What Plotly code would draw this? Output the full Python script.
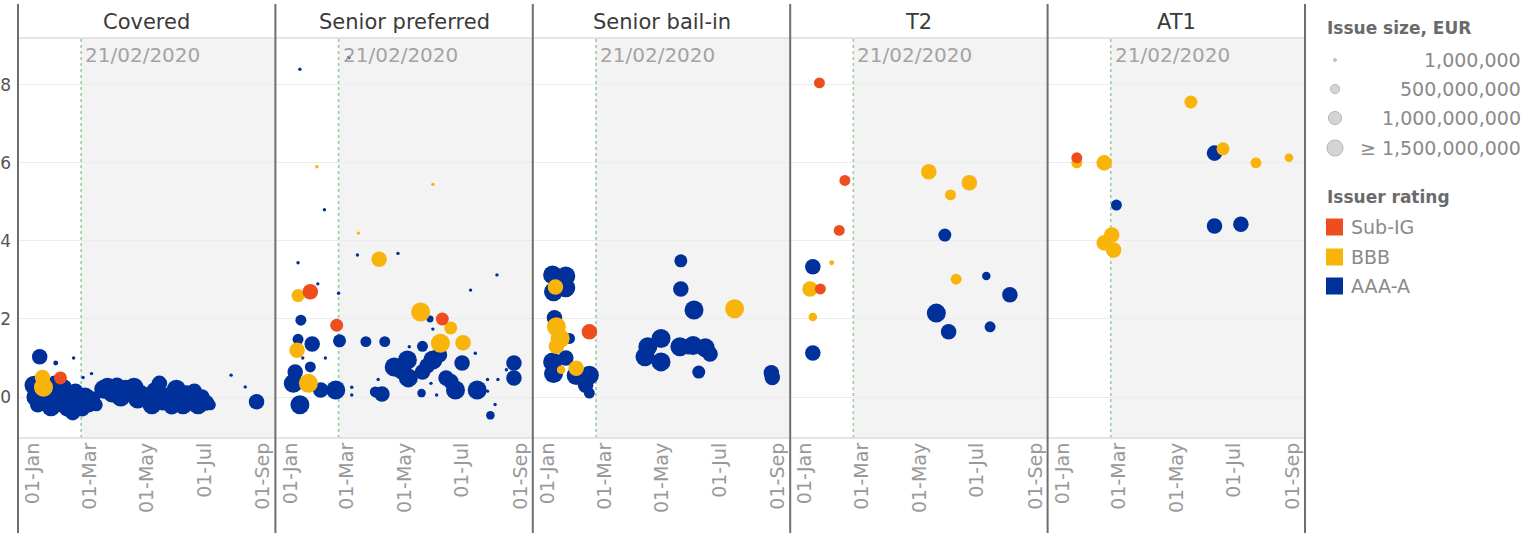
import math
import plotly.graph_objects as go
from plotly.subplots import make_subplots

# ---------------- data ----------------
panels = ["Covered", "Senior preferred", "Senior bail-in", "T2", "AT1"]
rating_order = ["A", "B", "S"]
rating_names = {"S": "Sub-IG", "B": "BBB", "A": "AAA-A"}
rating_colors = {"S": "#EE4D1E", "B": "#F8B40A", "A": "#00309A"}
event_date = "2020-02-21"
event_label = "21/02/2020"
x_range = ["2019-12-16", "2020-09-14"]
tick_dates = ["2020-01-01", "2020-03-01", "2020-05-01", "2020-07-01", "2020-09-01"]
tick_labels = ["01-Jan", "01-Mar", "01-May", "01-Jul", "01-Sep"]
y_ticks = [0, 2, 4, 6, 8]
size_legend_values = [1, 500, 1000, 1500]          # EUR millions
size_legend_labels = ["1,000,000", "500,000,000", "1,000,000,000", "\u2265 1,500,000,000"]

# Covered
covered_dates = ["2020-01-02", "2020-01-04", "2020-01-06", "2020-01-08", "2020-01-10", "2020-01-14",
                 "2020-01-18", "2020-01-20", "2020-01-24", "2020-01-27", "2020-01-31", "2020-02-03",
                 "2020-02-06", "2020-02-09", "2020-02-12", "2020-02-15", "2020-02-18", "2020-02-22",
                 "2020-02-25", "2020-02-29", "2020-03-04", "2020-03-08", "2020-01-25", "2020-02-13",
                 "2020-02-23", "2020-03-03",
                 "2020-03-16", "2020-03-20", "2020-03-25", "2020-03-30", "2020-04-03", "2020-04-08",
                 "2020-04-12", "2020-04-17", "2020-04-21", "2020-04-25", "2020-05-02", "2020-05-06",
                 "2020-05-10", "2020-05-14", "2020-05-18", "2020-05-22", "2020-05-27", "2020-06-01",
                 "2020-06-04", "2020-06-08", "2020-06-12", "2020-06-16", "2020-06-20", "2020-06-24",
                 "2020-06-28", "2020-07-03", "2020-07-07", "2020-07-29", "2020-08-13", "2020-08-25",
                 "2020-01-11", "2020-01-12", "2020-01-30"]
covered_yield = [0.30, 0.00, -0.20, 1.03, 0.10, -0.10,
                 0.20, -0.25, 0.35, 0.05, -0.15, 0.25,
                 -0.30, 0.00, -0.40, 0.15, -0.20, -0.30,
                 0.00, -0.20, -0.05, -0.20, 0.87, 1.00,
                 0.50, 0.60,
                 0.20, 0.25, 0.10, 0.30, 0.00, 0.20,
                 0.10, 0.25, -0.05, 0.10, 0.00, -0.20,
                 0.15, 0.35, -0.10, 0.00, -0.25, 0.20,
                 0.00, -0.20, 0.10, -0.10, 0.15, -0.20,
                 0.00, -0.15, -0.20, 0.56, 0.26, -0.12,
                 0.50, 0.25, 0.49]
covered_size = [1500, 1500, 1000, 1000, 1500, 1500,
                1000, 1500, 1000, 1500, 1500, 1000,
                1000, 1500, 1000, 1000, 1500, 1000,
                1500, 1000, 1000, 700, 100, 50,
                1, 1,
                1500, 1500, 1500, 1000, 1500, 1500,
                1000, 1500, 1500, 1000, 1500, 1500,
                1500, 1000, 1500, 1500, 1000, 1500,
                1500, 1500, 1000, 1500, 1000, 1500,
                1000, 1000, 500, 20, 20, 1000,
                1000, 1500, 700]
covered_rating = ["A"] * 56 + ["B", "B", "S"]

# Senior preferred
sp_dates = ["2020-01-11", "2020-01-29", "2020-02-06", "2020-03-13", "2020-05-31", "2020-03-03",
            "2020-01-09", "2020-04-04", "2020-03-12", "2020-04-24", "2020-08-07", "2020-07-10",
            "2020-01-22", "2020-01-09", "2020-01-30", "2020-02-21", "2020-01-12", "2020-02-19",
            "2020-05-18", "2020-05-28", "2020-06-10", "2020-06-19", "2020-05-31", "2020-06-08",
            "2020-07-02", "2020-01-09", "2020-01-24", "2020-01-08", "2020-02-22", "2020-03-21",
            "2020-04-10", "2020-02-07", "2020-01-14", "2020-05-06", "2020-05-20", "2020-07-15",
            "2020-01-22", "2020-01-06", "2020-01-04", "2020-01-20", "2020-02-02", "2020-02-18",
            "2020-03-06", "2020-03-06", "2020-01-11", "2020-03-31", "2020-04-07", "2020-04-03",
            "2020-04-20", "2020-04-28", "2020-05-04", "2020-05-05", "2020-05-20", "2020-05-25",
            "2020-05-31", "2020-06-07", "2020-07-01", "2020-06-14", "2020-06-19", "2020-06-24",
            "2020-07-17", "2020-05-19", "2020-05-29", "2020-06-04", "2020-07-28", "2020-07-28",
            "2020-08-05", "2020-07-31", "2020-08-08", "2020-08-25", "2020-08-25", "2020-08-17"]
sp_yield = [8.40, 5.90, 4.80, 4.20, 5.45, 8.70,
            3.44, 3.53, 3.64, 3.68, 3.13, 2.74,
            2.70, 2.60, 2.90, 2.66, 1.97, 1.84,
            2.18, 2.00, 2.00, 1.77, 1.74, 1.38,
            1.39, 1.48, 1.36, 1.20, 1.44, 1.42,
            1.42, 1.00, 1.00, 1.29, 1.30, 1.12,
            0.77, 0.64, 0.35, 0.35, 0.18, 0.18,
            0.25, 0.05, -0.20, 0.13, 0.08, 0.45,
            0.77, 0.70, 0.95, 0.49, 0.64, 0.80,
            0.95, 1.08, 0.87, 0.49, 0.40, 0.18,
            0.18, 0.10, 0.35, 0.05, 0.45, 0.15,
            -0.19, -0.47, 0.45, 0.87, 0.49, 0.70]
sp_size = [1, 1, 1, 1, 1, 1,
           1, 1000, 1, 1, 1, 1,
           1000, 700, 1, 1, 500, 700,
           1500, 200, 700, 700, 1, 1500,
           1000, 500, 1000, 1000, 700, 500,
           500, 1, 1, 1, 500, 1,
           500, 1000, 1500, 1500, 1000, 1500,
           1, 1, 1500, 500, 1000, 1,
           1500, 1500, 1500, 1500, 1000, 1000,
           1500, 1000, 1000, 1000, 1000, 1500,
           1500, 300, 1, 1, 1, 1,
           1, 300, 1, 1000, 1000, 1]
sp_rating = ["A", "B", "A", "B", "B", "A",
             "A", "B", "A", "A", "A", "A",
             "S", "B", "A", "A", "A", "S",
             "B", "A", "S", "B", "A", "B",
             "B", "A", "A", "B", "A", "A",
             "A", "A", "A", "A", "A", "A",
             "A", "A", "A", "B", "A", "A",
             "A", "A", "A", "A", "A", "A",
             "A", "A", "A", "A", "A", "A",
             "A", "A", "A", "A", "A", "A",
             "A", "A", "A", "A", "A", "A",
             "A", "A", "A", "A", "A", "A"]

# Senior bail-in
sb_dates = ["2020-05-21", "2020-05-21", "2020-06-04", "2020-07-17", "2020-08-25", "2020-08-26",
            "2020-06-09", "2020-04-30", "2020-04-16", "2020-04-13", "2020-04-30", "2020-05-20",
            "2020-05-29", "2020-06-03", "2020-06-16", "2020-06-21", "2020-01-06", "2020-01-20",
            "2020-01-07", "2020-01-20", "2020-01-09", "2020-01-08", "2020-01-10", "2020-01-14",
            "2020-01-10", "2020-01-24", "2020-02-14", "2020-01-06", "2020-01-20", "2020-01-07",
            "2020-01-15", "2020-01-31", "2020-01-31", "2020-02-14", "2020-02-10", "2020-02-14"]
sb_yield = [3.49, 2.77, 2.23, 2.26, 0.62, 0.50,
            0.64, 1.50, 1.29, 1.03, 0.90, 1.29,
            1.29, 1.32, 1.26, 1.10, 3.13, 3.10,
            2.70, 2.80, 2.82, 2.03, 1.80, 1.50,
            1.30, 1.50, 1.67, 0.90, 1.00, 0.60,
            0.70, 0.74, 0.55, 0.56, 0.30, 0.10]
sb_size = [700, 1000, 1500, 1500, 1000, 1000,
           700, 1500, 1500, 1500, 1500, 1500,
           1000, 1500, 1500, 1000, 1500, 1500,
           1500, 1500, 1000, 1000, 1500, 1500,
           1000, 500, 1000, 1500, 1000, 1500,
           300, 1000, 1500, 1500, 1000, 500]
sb_rating = ["A", "A", "A", "B", "A", "A",
             "A", "A", "A", "A", "A", "A",
             "A", "A", "A", "A", "A", "A",
             "A", "A", "B", "A", "B", "B",
             "B", "A", "S", "A", "A", "A",
             "B", "B", "A", "A", "A", "A"]

# T2
t2_dates = ["2020-01-16", "2020-02-12", "2020-02-06", "2020-01-09", "2020-01-29", "2020-01-06",
            "2020-01-17", "2020-01-09", "2020-01-09", "2020-05-11", "2020-06-23", "2020-06-03",
            "2020-05-28", "2020-06-09", "2020-07-11", "2020-08-05", "2020-05-19", "2020-06-01",
            "2020-07-15"]
t2_yield = [8.05, 5.55, 4.27, 3.34, 3.44, 2.77,
            2.77, 2.05, 1.13, 5.77, 5.49, 5.18,
            4.15, 3.02, 3.10, 2.62, 2.15, 1.67,
            1.80]
t2_size = [500, 500, 500, 1000, 100, 1000,
           500, 300, 1000, 1000, 1000, 500,
           700, 500, 300, 1000, 1500, 1000,
           500]
t2_rating = ["S", "S", "S", "A", "B", "B",
             "S", "B", "A", "B", "B", "B",
             "A", "B", "A", "A", "A", "A",
             "A"]

# AT1
at1_dates = ["2020-05-16", "2020-01-16", "2020-01-16", "2020-02-14", "2020-06-10", "2020-06-19",
             "2020-07-24", "2020-08-28", "2020-02-27", "2020-06-10", "2020-07-08", "2020-02-14",
             "2020-02-22", "2020-02-24"]
at1_yield = [7.56, 6.13, 6.00, 6.00, 6.25, 6.36,
             6.00, 6.13, 4.92, 4.38, 4.43, 3.95,
             4.15, 3.77]
at1_size = [700, 500, 500, 1000, 1000, 700,
            500, 300, 500, 1000, 1000, 1000,
            1000, 1000]
at1_rating = ["B", "S", "B", "B", "A", "B",
              "B", "B", "A", "A", "A", "B",
              "B", "B"]

panel_data = [
    (covered_dates, covered_yield, covered_size, covered_rating),
    (sp_dates, sp_yield, sp_size, sp_rating),
    (sb_dates, sb_yield, sb_size, sb_rating),
    (t2_dates, t2_yield, t2_size, t2_rating),
    (at1_dates, at1_yield, at1_size, at1_rating),
]

# ---------------- figure ----------------
W, H = 1534, 533
ML, MR, MT, MB = 18, 229, 38, 95
PW, PH = W - ML - MR, H - MT - MB
MAX_D = 19
SIZEREF = 2.0 * 1500 / MAX_D ** 2
SIZEMIN = 1.7

FONT = "DejaVu Sans"


def px_x(x):
    return (x - ML) / PW


def px_y(y):
    return (MT + PH - y) / PH


fig = make_subplots(rows=1, cols=5, shared_yaxes=True, horizontal_spacing=0)

for i, (dates, vals, sizes, ratings) in enumerate(panel_data):
    for r in rating_order:
        idx = [k for k, rr in enumerate(ratings) if rr == r]
        if not idx:
            continue
        fig.add_trace(go.Scatter(
            x=[dates[k] for k in idx],
            y=[vals[k] for k in idx],
            mode="markers",
            marker=dict(size=[sizes[k] for k in idx], sizemode="area", sizeref=SIZEREF,
                        sizemin=SIZEMIN, color=rating_colors[r], opacity=1,
                        line=dict(width=0)),
            name=rating_names[r], showlegend=False,
            hoverinfo="x+y",
        ), row=1, col=i + 1)

fig.update_xaxes(range=x_range, tickvals=tick_dates, ticktext=tick_labels, tickangle=-90,
                 tickfont=dict(family=FONT, size=19, color="#999999"),
                 showgrid=False, zeroline=False, showline=False, ticks="")
fig.update_yaxes(range=[-1.05, 9.2], tickvals=y_ticks, showgrid=True, gridcolor="#ececec",
                 gridwidth=1, zeroline=False, showline=False, ticks="")
fig.update_yaxes(tickfont=dict(family=FONT, size=17, color="#555555"), ticklabelstandoff=6,
                 row=1, col=1)

shapes = []
annotations = []
for i, title in enumerate(panels):
    xr = "x" if i == 0 else f"x{i + 1}"
    yr = "y domain" if i == 0 else f"y{i + 1} domain"
    shapes.append(dict(type="rect", xref=xr, yref=yr, x0=event_date, x1=x_range[1], y0=0, y1=1,
                       fillcolor="#f3f3f3", line=dict(width=0), layer="below"))
    shapes.append(dict(type="line", xref=xr, yref=yr, x0=event_date, x1=event_date, y0=0, y1=1,
                       line=dict(color="#9ccc9c", width=1.6, dash="dot"), layer="below"))
    annotations.append(dict(xref=xr, yref="paper", x=event_date, y=px_y(55), xanchor="left",
                            yanchor="middle", xshift=2, showarrow=False, text=event_label,
                            font=dict(family=FONT, size=20, color="#a3a3a3")))
    annotations.append(dict(xref="paper", yref="paper", x=(i + 0.5) / 5, y=px_y(22),
                            xanchor="center", yanchor="middle", showarrow=False, text=title,
                            font=dict(family=FONT, size=21, color="#3a3a3a")))

# header and bottom lines
shapes.append(dict(type="line", xref="paper", yref="paper", x0=0, x1=1, y0=1, y1=1,
                   line=dict(color="#dcdcdc", width=1.5)))
shapes.append(dict(type="line", xref="paper", yref="paper", x0=0, x1=1, y0=0, y1=0,
                   line=dict(color="#dcdcdc", width=1.5)))
# panel separators
for k in range(6):
    shapes.append(dict(type="line", xref="paper", yref="paper", x0=k / 5, x1=k / 5,
                       y0=px_y(H), y1=px_y(4), line=dict(color="#6e6e6e", width=2)))

# ---- custom legend ----
LEG_TXT = "#8a8a8a"
annotations.append(dict(xref="paper", yref="paper", x=px_x(1325), y=px_y(28), xanchor="left",
                        yanchor="middle", showarrow=False, text="<b>Issue size, EUR</b>",
                        font=dict(family=FONT, size=17, color="#6a6a6a")))
size_rows = [60, 89, 118, 148]
for v, lab, yy in zip(size_legend_values, size_legend_labels, size_rows):
    rad = max(math.sqrt(v / (2 * SIZEREF)), SIZEMIN) * 0.85
    cx = 1335
    shapes.append(dict(type="circle", xref="paper", yref="paper",
                       x0=px_x(cx - rad), x1=px_x(cx + rad), y0=px_y(yy + rad), y1=px_y(yy - rad),
                       fillcolor="#d4d4d4", line=dict(color="#b8b8b8", width=1)))
    annotations.append(dict(xref="paper", yref="paper", x=px_x(1523), y=px_y(yy), xanchor="right",
                            yanchor="middle", showarrow=False, text=lab,
                            font=dict(family=FONT, size=19, color=LEG_TXT)))

annotations.append(dict(xref="paper", yref="paper", x=px_x(1325), y=px_y(197), xanchor="left",
                        yanchor="middle", showarrow=False, text="<b>Issuer rating</b>",
                        font=dict(family=FONT, size=17, color="#6a6a6a")))
rating_rows = [("S", 227), ("B", 257), ("A", 286)]
for r, yy in rating_rows:
    shapes.append(dict(type="rect", xref="paper", yref="paper",
                       x0=px_x(1326), x1=px_x(1343), y0=px_y(yy + 8.5), y1=px_y(yy - 8.5),
                       fillcolor=rating_colors[r], line=dict(width=0)))
    annotations.append(dict(xref="paper", yref="paper", x=px_x(1349), y=px_y(yy), xanchor="left",
                            yanchor="middle", showarrow=False, text=rating_names[r],
                            font=dict(family=FONT, size=19, color=LEG_TXT)))

fig.update_layout(
    width=W, height=H,
    margin=dict(l=ML, r=MR, t=MT, b=MB, autoexpand=False),
    paper_bgcolor="white", plot_bgcolor="white",
    shapes=shapes, annotations=annotations,
    showlegend=False,
    font=dict(family=FONT),
)

fig.write_html("out.html", config={"displayModeBar": False},
               post_script="document.body.style.margin='0px';")
